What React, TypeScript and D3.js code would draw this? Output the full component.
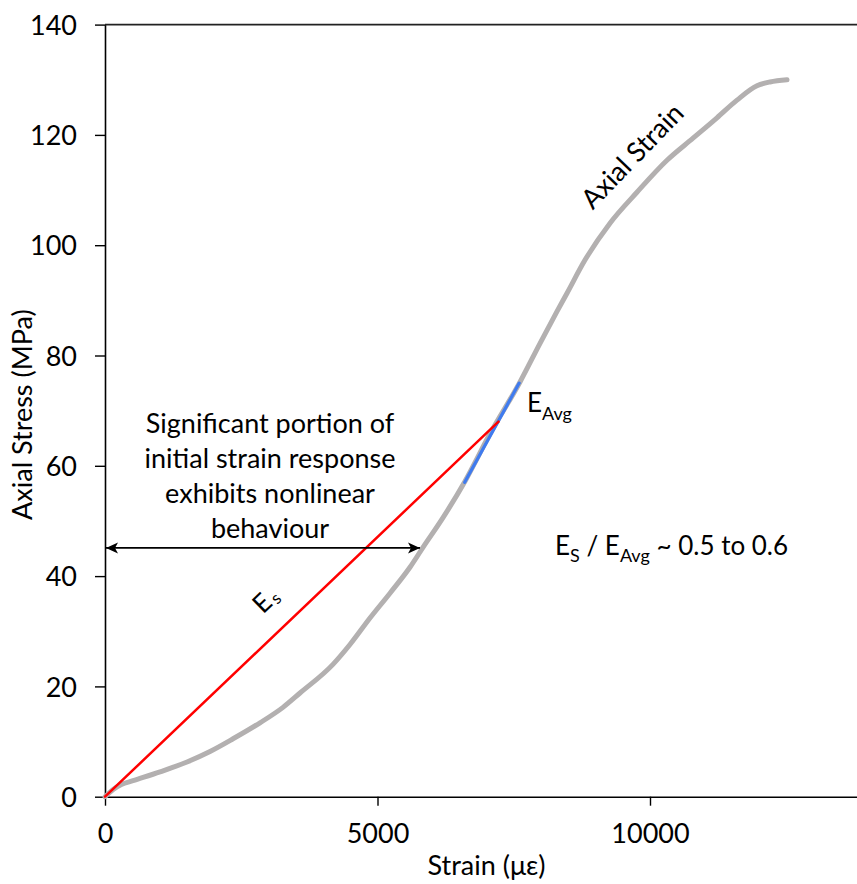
import { useEffect, useRef } from 'react';
import * as d3 from 'd3';

// axial strain curve (µε) vs axial stress (MPa)
const strain = [0, 150, 300, 514, 1009, 1505, 1927, 2349, 2844, 3266, 3578, 4183, 4495, 4862, 5229, 5596, 5835, 6202, 6606, 7064, 7615, 7982, 8294, 8477, 8807, 9266, 9761, 10312, 10789, 11229, 11596, 11963, 12202, 12514];
const stress = [0, 1.3, 2.2, 2.9, 4.5, 6.3, 8.2, 10.5, 13.4, 16.2, 18.8, 24.0, 27.6, 32.4, 36.9, 41.6, 45.2, 50.6, 57.2, 65.8, 75.2, 82.2, 88.0, 91.3, 97.3, 104.0, 109.6, 115.4, 119.4, 123.1, 126.3, 128.9, 129.6, 130.0];

// secant modulus line (E_s) and average tangent segment (E_Avg)
const secantStrain = [0, 7220];
const secantStress = [0, 68];
const avgStrain = [6600, 7600];
const avgStress = [57, 75];

const xTicks = [0, 5000, 10000];
const yTicks = [0, 20, 40, 60, 80, 100, 120, 140];

const noteLines = ['Significant portion of', 'initial strain response', 'exhibits nonlinear', 'behaviour'];

const W = 857;
const H = 884;
const FONT = 'Lato, "Open Sans", sans-serif';
const FS = 27;

export default function App() {
  const svgRef = useRef<SVGSVGElement>(null);

  useEffect(() => {
    const svg = d3.select(svgRef.current);
    svg.selectAll('*').remove();

    const x = d3.scaleLinear().domain([0, 14000]).range([105, 868]);
    const y = d3.scaleLinear().domain([0, 140]).range([796.7, 24.6]);

    const defs = svg.append('defs');
    const mk = (id: string, d: string, refX: number) =>
      defs.append('marker')
        .attr('id', id)
        .attr('viewBox', '-1 -6 14 12')
        .attr('refX', refX).attr('refY', 0)
        .attr('markerWidth', 14).attr('markerHeight', 12)
        .attr('markerUnits', 'userSpaceOnUse')
        .attr('orient', 'auto')
        .append('path').attr('d', d).attr('fill', '#000');
    mk('arrEnd', 'M12,0 L0,-5.5 L3,0 L0,5.5 Z', 12);
    mk('arrStart', 'M0,0 L12,-5.5 L9,0 L12,5.5 Z', 0);

    // Y axis
    const gy = svg.append('g')
      .attr('transform', `translate(${x(0)},0)`)
      .call(d3.axisLeft(y).tickValues(yTicks).tickSize(10).tickSizeOuter(0).tickPadding(18));
    gy.select('.domain').attr('stroke', '#000').attr('stroke-width', 1.6);
    gy.selectAll('.tick line').attr('stroke', '#000').attr('stroke-width', 1.4);
    gy.selectAll('.tick text').attr('dy', '0.36em');

    // X axis
    const gx = svg.append('g')
      .attr('transform', `translate(0,${y(0)})`)
      .call(d3.axisBottom(x).tickValues(xTicks).tickFormat(d3.format('d')).tickSize(9).tickSizeOuter(0));
    gx.select('.domain').attr('stroke', '#000').attr('stroke-width', 1.6);
    gx.selectAll('.tick line').attr('stroke', '#000').attr('stroke-width', 1.4);
    gx.selectAll('.tick text').attr('y', 46).attr('dy', 0);

    svg.selectAll('.tick text')
      .attr('fill', '#000')
      .attr('font-family', FONT)
      .attr('font-size', FS);

    // top border
    svg.append('line')
      .attr('x1', x(0)).attr('x2', x(14000))
      .attr('y1', y(140)).attr('y2', y(140))
      .attr('stroke', '#222').attr('stroke-width', 1.6);

    // axis titles
    svg.append('text')
      .attr('x', (x(0) + x(14000)) / 2).attr('y', 875)
      .attr('text-anchor', 'middle')
      .attr('font-family', FONT).attr('font-size', FS)
      .text('Strain (με)');
    svg.append('text')
      .attr('transform', `translate(32,${(y(0) + y(140)) / 2 + 4}) rotate(-90)`)
      .attr('text-anchor', 'middle')
      .attr('font-family', FONT).attr('font-size', FS)
      .text('Axial Stress (MPa)');

    // curve
    const pts = strain.map((s, i) => [s, stress[i]] as [number, number]);
    const line = d3.line<[number, number]>()
      .x(d => x(d[0]))
      .y(d => y(d[1]))
      .curve(d3.curveMonotoneX);
    svg.append('path')
      .datum(pts)
      .attr('fill', 'none')
      .attr('stroke', '#B3B0B0')
      .attr('stroke-width', 5)
      .attr('stroke-linecap', 'round')
      .attr('stroke-linejoin', 'round')
      .attr('d', line);

    // E_Avg segment
    svg.append('line')
      .attr('x1', x(avgStrain[0])).attr('y1', y(avgStress[0]))
      .attr('x2', x(avgStrain[1])).attr('y2', y(avgStress[1]))
      .attr('stroke', '#3F7BEF').attr('stroke-width', 3.2)
      .attr('stroke-linecap', 'round');

    // E_s secant line
    svg.append('line')
      .attr('x1', x(secantStrain[0])).attr('y1', y(secantStress[0]))
      .attr('x2', x(secantStrain[1])).attr('y2', y(secantStress[1]))
      .attr('stroke', '#FF0000').attr('stroke-width', 2.5)
      .attr('stroke-linecap', 'round');

    // nonlinear range arrow
    svg.append('line')
      .attr('x1', x(0) + 1).attr('x2', x(5780))
      .attr('y1', y(45.1)).attr('y2', y(45.1))
      .attr('stroke', '#000').attr('stroke-width', 1.8)
      .attr('marker-start', 'url(#arrStart)')
      .attr('marker-end', 'url(#arrEnd)');

    // annotation text block
    const note = svg.append('text')
      .attr('font-family', FONT).attr('font-size', FS)
      .attr('text-anchor', 'middle');
    note.selectAll('tspan')
      .data(noteLines)
      .join('tspan')
      .attr('x', x(3028))
      .attr('y', (_, i) => y(65.9) + i * 35)
      .text(d => d);

    // E_s label along the red line
    const es = svg.append('text')
      .attr('transform', `translate(${x(2900)},${y(33)}) rotate(-44)`)
      .attr('font-family', FONT).attr('font-size', 26);
    es.append('tspan').text('E');
    es.append('tspan').attr('font-size', 17).attr('dx', 2).attr('dy', 3).text('s');

    // E_Avg label
    const ea = svg.append('text')
      .attr('x', x(7743)).attr('y', y(69.8))
      .attr('font-family', FONT).attr('font-size', 26);
    ea.append('tspan').text('E');
    ea.append('tspan').attr('font-size', 18).attr('dy', 8).text('Avg');

    // ratio text
    const r = svg.append('text')
      .attr('x', x(8257)).attr('y', y(43.8))
      .attr('font-family', FONT).attr('font-size', 26);
    r.append('tspan').text('E');
    r.append('tspan').attr('font-size', 18).attr('dy', 7).text('S');
    r.append('tspan').attr('dy', -7).text(' / E');
    r.append('tspan').attr('font-size', 18).attr('dy', 7).text('Avg');
    r.append('tspan').attr('dy', -7).text(' ~ 0.5 to 0.6');

    // curve label
    svg.append('text')
      .attr('transform', `translate(${x(9800)},${y(115)}) rotate(-46)`)
      .attr('text-anchor', 'middle')
      .attr('font-family', FONT).attr('font-size', FS)
      .text('Axial Strain');
  }, []);

  return (
    <div style={{ position: 'absolute', left: 0, top: 0, width: W, height: H, overflow: 'hidden', background: '#fff' }}>
      <svg ref={svgRef} width={W} height={H} />
    </div>
  );
}
